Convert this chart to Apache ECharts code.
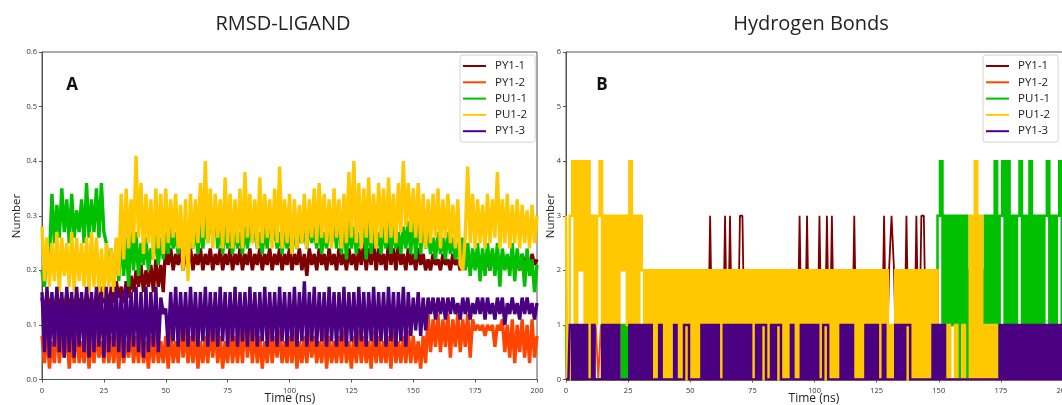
<!DOCTYPE html>
<html><head><meta charset="utf-8">
<script src="https://cdn.jsdelivr.net/npm/echarts@6/dist/echarts.min.js"></script>
<style>html,body{margin:0;padding:0;background:#fff}#c{width:1062px;height:405px}</style>
</head><body><div id="c"></div>
<script>
// ---------- categories / labels ----------
const seriesNames = ['PY1-1','PY1-2','PU1-1','PU1-2','PY1-3'];
const seriesColors = ['#7f0000','#ff4500','#00c000','#ffc800','#4b0082'];
const xTickValues = [0,25,50,75,100,125,150,175,200];

// ---------- RMSD-LIGAND (nm), one value per ns, t = 0..200 ----------
const rmsdPY1_1 = [
.15,.12,.16,.13,.15,.12,.16,.13,.15,.12,
.16,.13,.15,.12,.16,.13,.15,.12,.16,.13,
.15,.12,.16,.13,.17,.14,.16,.13,.17,.14,
.18,.15,.17,.14,.18,.15,.19,.16,.20,.17,
.21,.16,.20,.17,.21,.16,.22,.17,.21,.16,
.25,.21,.24,.20,.23,.21,.24,.20,.23,.21,
.24,.20,.23,.21,.24,.20,.23,.21,.24,.20,
.23,.21,.24,.20,.23,.21,.24,.20,.23,.21,
.24,.20,.23,.21,.24,.20,.23,.21,.24,.20,
.23,.21,.24,.20,.23,.21,.24,.20,.23,.21,
.24,.20,.23,.21,.24,.20,.23,.19,.24,.21,
.23,.20,.24,.21,.23,.20,.24,.21,.23,.20,
.24,.21,.23,.20,.24,.21,.23,.20,.24,.21,
.25,.20,.24,.21,.25,.20,.24,.21,.23,.20,
.25,.21,.24,.20,.25,.21,.23,.20,.24,.21,
.23,.20,.24,.21,.23,.20,.22,.20,.23,.21,
.22,.20,.23,.21,.22,.20,.23,.21,.22,.20,
.23,.21,.22,.20,.23,.21,.22,.20,.23,.21,
.22,.20,.23,.21,.22,.20,.23,.21,.22,.20,
.23,.21,.22,.20,.23,.21,.22,.20,.23,.21,
.22];
const rmsdPY1_2 = [
.08,.03,.09,.02,.07,.03,.10,.03,.08,.04,
.09,.02,.08,.03,.10,.03,.07,.03,.09,.02,
.08,.03,.09,.04,.07,.03,.10,.03,.08,.03,
.09,.02,.08,.03,.07,.04,.09,.03,.08,.03,
.09,.03,.07,.02,.08,.03,.09,.03,.07,.03,
.08,.02,.09,.03,.07,.03,.10,.04,.09,.03,
.08,.03,.09,.02,.07,.03,.08,.03,.10,.04,
.09,.03,.08,.02,.07,.03,.09,.03,.08,.03,
.09,.03,.11,.04,.10,.03,.09,.03,.08,.02,
.07,.03,.09,.03,.08,.04,.09,.03,.07,.03,
.08,.03,.09,.02,.07,.03,.08,.03,.09,.04,
.08,.03,.07,.03,.09,.02,.08,.03,.07,.03,
.08,.03,.09,.03,.07,.02,.08,.03,.09,.03,
.08,.03,.07,.02,.09,.03,.08,.03,.07,.03,
.08,.02,.09,.03,.07,.03,.08,.03,.09,.03,
.08,.03,.07,.02,.08,.03,.12,.05,.11,.06,
.12,.05,.11,.06,.12,.04,.11,.06,.12,.05,
.11,.06,.12,.04,.11,.09,.10,.09,.10,.08,
.10,.09,.10,.06,.10,.09,.11,.05,.10,.04,
.11,.03,.10,.05,.11,.04,.10,.03,.11,.04,
.08];
const rmsdPU1_1 = [
.20,.17,.25,.22,.34,.25,.32,.26,.35,.27,
.33,.25,.34,.26,.31,.27,.33,.25,.36,.26,
.33,.27,.35,.26,.36,.27,.25,.18,.24,.17,
.25,.18,.27,.19,.26,.17,.28,.20,.27,.19,
.25,.21,.26,.20,.24,.22,.27,.21,.26,.22,
.27,.23,.28,.24,.27,.23,.29,.24,.28,.23,
.27,.24,.28,.23,.29,.24,.30,.25,.31,.26,
.32,.24,.29,.23,.28,.24,.27,.23,.28,.24,
.27,.23,.28,.24,.29,.25,.28,.24,.27,.23,
.28,.24,.30,.25,.28,.24,.27,.23,.28,.24,
.27,.23,.28,.24,.27,.25,.28,.24,.29,.25,
.28,.24,.29,.23,.27,.24,.28,.25,.30,.24,
.31,.23,.30,.22,.29,.24,.28,.23,.27,.24,
.31,.22,.30,.23,.28,.24,.27,.23,.28,.24,
.29,.23,.28,.24,.27,.23,.28,.24,.29,.23,
.31,.22,.32,.23,.30,.24,.27,.23,.26,.22,
.27,.23,.26,.22,.27,.23,.26,.22,.25,.21,
.26,.20,.25,.19,.24,.20,.25,.18,.24,.19,
.25,.20,.24,.19,.25,.17,.24,.20,.23,.19,
.25,.18,.24,.20,.23,.17,.24,.19,.22,.16,
.21];
const rmsdPU1_2 = [
.28,.18,.26,.17,.25,.18,.27,.16,.26,.19,
.25,.17,.27,.16,.26,.18,.25,.17,.26,.16,
.27,.17,.26,.16,.24,.15,.25,.17,.24,.16,
.26,.19,.34,.22,.35,.24,.33,.25,.41,.26,
.36,.23,.34,.25,.33,.22,.35,.24,.34,.23,
.35,.25,.33,.26,.34,.24,.32,.20,.33,.18,
.34,.24,.33,.25,.36,.26,.40,.25,.35,.24,
.34,.26,.33,.24,.37,.25,.34,.24,.33,.25,
.35,.24,.38,.26,.34,.25,.33,.24,.37,.25,
.34,.26,.33,.24,.35,.25,.39,.24,.33,.25,
.34,.23,.33,.24,.32,.25,.34,.24,.33,.26,
.35,.25,.36,.26,.34,.25,.33,.24,.35,.26,
.33,.24,.34,.25,.38,.26,.40,.25,.36,.24,
.35,.26,.37,.25,.34,.24,.36,.26,.35,.25,
.37,.26,.34,.25,.36,.27,.40,.28,.36,.27,
.35,.26,.36,.25,.34,.24,.33,.25,.34,.26,
.35,.24,.33,.26,.34,.25,.32,.24,.33,.21,
.20,.26,.39,.25,.34,.24,.33,.25,.32,.24,
.34,.25,.33,.26,.38,.24,.33,.25,.34,.24,
.32,.25,.33,.24,.32,.25,.31,.24,.32,.25,
.30];
const rmsdPY1_3 = [
.16,.05,.17,.04,.16,.06,.17,.05,.16,.04,
.17,.05,.16,.04,.17,.06,.16,.05,.17,.04,
.16,.05,.17,.06,.16,.04,.17,.05,.16,.06,
.17,.05,.16,.04,.17,.05,.16,.06,.17,.05,
.16,.04,.17,.05,.16,.06,.17,.05,.15,.12,
.13,.06,.16,.07,.17,.06,.16,.07,.16,.06,
.17,.07,.16,.06,.16,.07,.17,.06,.16,.07,
.16,.06,.17,.07,.16,.06,.16,.07,.17,.06,
.16,.07,.16,.06,.17,.07,.16,.06,.16,.07,
.17,.06,.16,.07,.16,.06,.17,.07,.16,.06,
.16,.07,.17,.06,.16,.07,.18,.06,.16,.07,
.17,.06,.16,.07,.16,.06,.17,.07,.16,.06,
.16,.07,.17,.06,.16,.07,.16,.06,.17,.07,
.16,.06,.16,.07,.17,.06,.16,.07,.16,.06,
.17,.07,.16,.06,.16,.07,.17,.06,.16,.08,
.15,.09,.16,.08,.15,.09,.15,.12,.15,.11,
.15,.12,.15,.11,.15,.12,.15,.12,.14,.11,
.15,.12,.15,.11,.14,.12,.15,.12,.15,.11,
.15,.12,.14,.11,.15,.12,.15,.10,.14,.12,
.15,.12,.14,.11,.15,.12,.15,.12,.14,.11,
.14];

// ---------- Hydrogen bonds (count), one value per ns, t = 0..200 ----------
const hbPY1_1 = [
0,0,0,0,0,0,0,0,0,0, 0,0,0,0,0,0,0,0,0,0, 0,0,0,0,0,0,0,0,0,0, 0,0,0,0,0,0,0,0,0,0,
0,0,0,0,0,0,0,0,0,0, 0,0,0,0,0,0,0,0,3,0, 0,0,0,0,3,0,3,0,0,0, 3,3,0,0,0,0,0,0,0,0,
0,0,0,0,0,0,0,0,0,0, 0,0,0,0,3,0,0,3,0,0, 0,0,3,0,0,3,0,3,0,0, 0,0,0,0,0,0,3,0,0,0,
0,0,0,0,0,0,0,0,3,0, 2,3,2,0,0,0,0,3,0,0, 0,3,0,3,3,0,0,0,0,0, 0,0,0,0,0,0,0,0,0,0,
0,0,0,0,0,0,0,0,0,0, 0,0,0,0,0,0,0,0,0,0, 0,0,0,0,0,0,0,0,0,0, 0,0,0,0,0,0,0,0,0,0,
0];
const hbPY1_2 = [
0,0,0,0,0,0,0,0,0,0, 0,0,1,0,1,0,0,0,0,0, 0,0,0,0,0,0,0,0,0,0, 0,0,2,0,0,0,0,0,0,0,
0,0,0,0,0,0,0,0,0,0, 0,0,0,0,0,0,0,0,0,0, 0,0,0,0,0,0,0,0,0,0, 0,0,0,0,0,0,0,0,0,0,
0,0,0,0,0,0,0,0,0,0, 0,0,0,0,0,0,0,0,0,0, 0,0,0,0,0,0,0,0,0,0, 0,0,0,0,0,0,0,0,0,0,
0,0,0,0,0,0,0,0,0,0, 0,0,0,0,0,0,0,0,0,0, 0,0,0,0,0,0,0,0,0,0, 0,0,0,0,0,0,0,0,0,0,
0,0,0,0,0,0,0,0,0,0, 1,0,1,0,1,0,0,0,0,0, 0,0,0,0,0,0,0,0,0,0, 0,0,0,0,0,0,0,0,0,0,
0];
const hbPU1_1 = [
1,0,0,0,0,0,0,0,0,0, 0,0,0,0,0,0,0,0,0,0, 0,0,0,1,0,1,0,0,0,0, 0,0,0,0,0,0,0,0,0,0,
0,0,0,0,0,0,0,0,0,0, 0,0,0,0,0,0,0,0,0,0, 0,0,0,0,0,0,0,0,0,0, 0,0,0,0,0,0,0,0,0,0,
0,0,0,0,0,0,0,0,0,0, 0,0,0,0,0,0,0,0,0,0, 0,0,0,0,0,0,0,0,0,0, 0,0,0,0,0,0,0,0,0,0,
0,0,0,0,0,0,0,0,0,0, 0,0,0,0,0,0,0,0,0,0, 0,0,0,0,0,0,0,0,0,0, 3,4,1,3,0,3,1,3,0,3,
1,3,0,2,1,2,1,2,1,3, 0,3,1,4,0,3,4,1,4,1, 3,1,3,4,1,3,1,4,1,3, 1,3,1,3,4,1,3,1,3,4,
1];
const hbPU1_2 = [
3,0,3,4,1,4,2,4,0,4, 0,3,1,3,4,0,3,0,3,1, 3,0,3,2,3,1,4,0,3,0, 3,2,0,2,0,2,0,2,0,2,
0,2,0,2,1,2,0,2,0,2, 0,2,0,2,0,2,0,2,1,2, 0,2,0,2,0,2,0,2,0,2, 0,2,0,2,0,2,0,2,0,2,
0,2,0,2,0,2,0,2,0,2, 0,2,0,2,0,2,0,2,0,2, 0,2,0,2,0,2,0,2,0,2, 0,2,0,2,0,2,0,2,0,2,
0,2,0,2,0,2,0,2,0,2, 0,1,0,2,0,2,0,2,0,2, 0,2,0,2,0,2,0,2,0,2, 0,1,0,0,1,0,0,1,0,0,
1,0,0,3,0,4,0,3,0,1, 0,1,0,1,0,0,0,0,0,0, 0,0,0,0,0,0,0,0,0,0, 0,0,0,0,0,0,0,0,0,0,
0];
const hbPY1_3 = [
0,0,1,0,1,0,1,0,1,0, 0,1,0,0,0,1,0,1,0,1, 0,1,0,0,0,0,1,0,1,0, 1,0,1,0,1,0,0,0,1,0,
0,0,0,0,1,0,0,0,1,1, 0,0,0,0,0,1,0,1,0,1, 0,1,0,0,1,0,1,0,1,0, 1,0,1,0,1,0,0,1,0,1,
1,0,0,1,0,1,1,0,0,0, 0,1,0,0,0,1,0,1,0,1, 0,1,0,0,1,1,0,0,0,0, 0,1,0,1,0,1,0,0,0,0,
0,1,0,1,0,1,0,0,1,0, 0,0,0,1,0,1,0,1,1,0, 0,0,0,0,0,0,0,0,1,0, 1,0,1,0,0,0,0,0,0,0,
0,0,0,0,0,0,0,0,0,0, 0,0,0,0,0,1,0,1,0,1, 0,1,0,1,0,1,0,1,0,1, 0,1,0,1,0,1,0,1,0,1,
0];

const rmsdData = [rmsdPY1_1, rmsdPY1_2, rmsdPU1_1, rmsdPU1_2, rmsdPY1_3];
const hbData = [hbPY1_1, hbPY1_2, hbPU1_1, hbPU1_2, hbPY1_3];

// ---------- chart ----------
const FONT = '"Open Sans", "DejaVu Sans", sans-serif';
const AX = '#555';
const toPairs = arr => arr.map((v, i) => [i, v]);

function xAxisCfg(gi) {
  return {
    type: 'value', gridIndex: gi, min: 0, max: 200, interval: 25,
    axisLine: {show: true, lineStyle: {color: AX, width: 1}},
    axisTick: {show: true, length: 3, lineStyle: {color: AX}},
    axisLabel: {fontSize: 7.5, color: '#333', margin: 7, fontFamily: FONT},
    splitLine: {show: false}
  };
}
function yAxisCfg(gi, max, interval, fmt) {
  return {
    type: 'value', gridIndex: gi, min: 0, max: max, interval: interval,
    axisLine: {show: true, lineStyle: {color: AX, width: 1}},
    axisTick: {show: true, length: 3, lineStyle: {color: AX}},
    axisLabel: {fontSize: 7.5, color: '#333', margin: 5, fontFamily: FONT, formatter: fmt},
    splitLine: {show: false}
  };
}

const series = [];
seriesNames.forEach((name, k) => {
  series.push({
    name, type: 'line', xAxisIndex: 0, yAxisIndex: 0, data: toPairs(rmsdData[k]),
    symbol: 'none', showSymbol: false, silent: true, animation: false,
    lineStyle: {color: seriesColors[k], width: 3.4, join: 'bevel', cap: 'butt'}, itemStyle: {color: seriesColors[k]},
    emphasis: {disabled: true}
  });
});
// sparse series (PY1-1, PY1-2) drawn as thin spikes; dense ones as vertical steps
seriesNames.forEach((name, k) => {
  const sparse = k < 2;
  series.push({
    name, type: 'line', xAxisIndex: 1, yAxisIndex: 1, data: toPairs(hbData[k]), step: sparse ? false : 'middle',
    symbol: 'none', showSymbol: false, silent: true, animation: false,
    lineStyle: {color: seriesColors[k], width: sparse ? 1.8 : 2.5, join: sparse ? 'bevel' : 'miter', cap: 'butt'},
    itemStyle: {color: seriesColors[k]},
    emphasis: {disabled: true}
  });
});

function legendCfg(left) {
  return {
    left: left, top: 55, orient: 'vertical', data: seriesNames, icon: 'rect',
    itemWidth: 23, itemHeight: 2, itemGap: 4.3, selectedMode: false,
    padding: [5, 8, 5, 3], backgroundColor: '#fff', borderColor: '#d4d4d4', borderWidth: 1, borderRadius: 3,
    textStyle: {fontSize: 11.5, color: '#222', fontFamily: FONT, lineHeight: 12, padding: [0, 0, 0, 4]}
  };
}

const txt = (x, y, text, size, extra) => ({
  type: 'text', x, y, silent: true, z: 20,
  style: Object.assign({text, fontSize: size, fontFamily: FONT, fill: '#222', align: 'center', verticalAlign: 'middle'}, extra || {})
});

const option = {
  animation: false,
  backgroundColor: '#fff',
  grid: [
    {left: 42, top: 52, width: 495, height: 327.5, show: true, borderColor: AX, borderWidth: 1, containLabel: false, outerBoundsMode: 'none'},
    {left: 566, top: 52, width: 497, height: 327.5, show: true, borderColor: AX, borderWidth: 1, containLabel: false, outerBoundsMode: 'none'}
  ],
  xAxis: [xAxisCfg(0), xAxisCfg(1)],
  yAxis: [yAxisCfg(0, 0.6, 0.1, v => v.toFixed(1)), yAxisCfg(1, 6, 1, v => String(v))],
  legend: [legendCfg(460), legendCfg(983)],
  series,
  graphic: [
    txt(283, 24, 'RMSD-LIGAND', 20),
    txt(811, 24, 'Hydrogen Bonds', 20),
    txt(72, 85, 'A', 17, {fontWeight: 'bold', fill: '#111'}),
    txt(602, 85, 'B', 17, {fontWeight: 'bold', fill: '#111'}),
    txt(290, 399, 'Time (ns)', 12),
    txt(814, 399, 'Time (ns)', 12),
    Object.assign(txt(17, 216, 'Number', 11.5), {rotation: Math.PI / 2}),
    Object.assign(txt(551, 216, 'Number', 11.5), {rotation: Math.PI / 2})
  ]
};

const chart = echarts.init(document.getElementById('c'), null, {renderer: 'canvas'});
chart.setOption(option);
</script>
</body></html>
